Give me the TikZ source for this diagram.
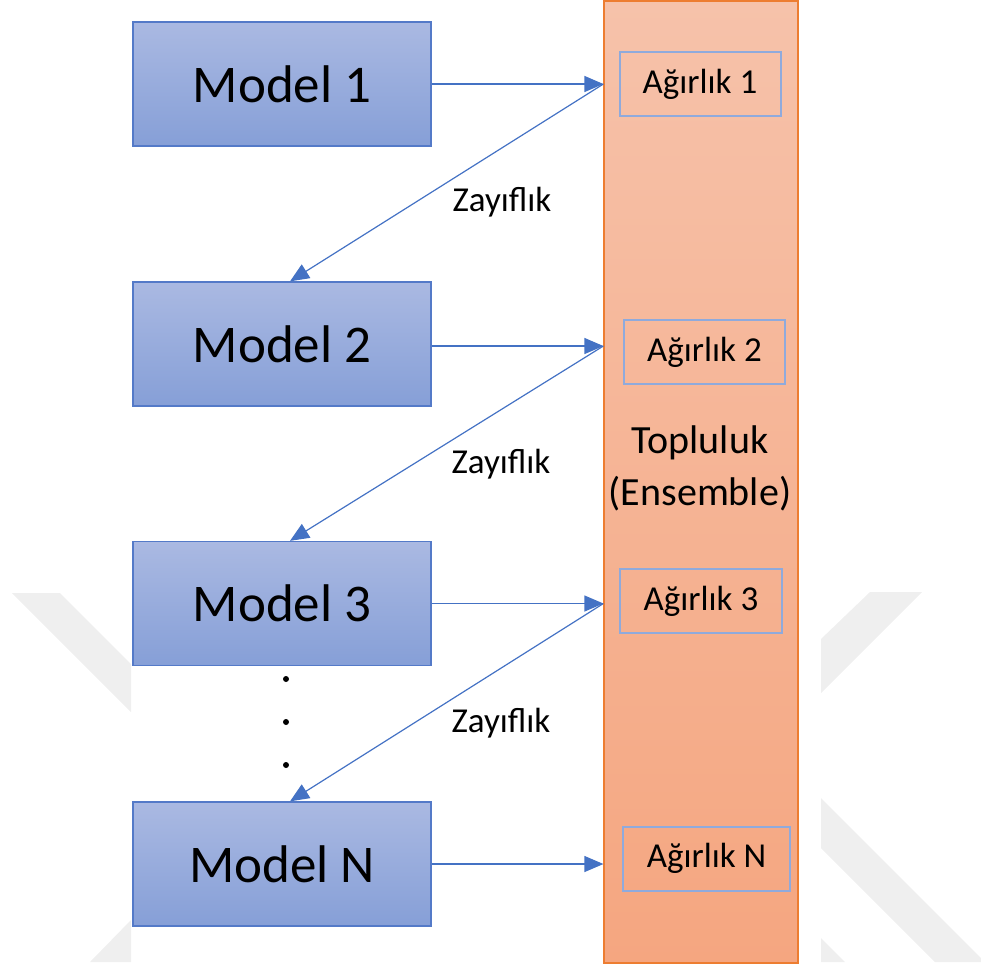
\documentclass[tikz,border=0pt]{standalone}
\usepackage{fontspec}
\setmainfont{Carlito}
\usetikzlibrary{arrows.meta}

\definecolor{modeltop}{RGB}{170,185,226}
\definecolor{modelbot}{RGB}{134,159,215}
\definecolor{modeledge}{RGB}{84,122,200}
\definecolor{enstop}{RGB}{246,194,170}
\definecolor{ensbot}{RGB}{245,166,128}
\definecolor{ensedge}{RGB}{237,125,49}
\definecolor{weightedge}{RGB}{143,170,220}
\definecolor{link}{RGB}{68,114,196}
\definecolor{mark}{RGB}{239,239,239}

\tikzset{
  modelbox/.style={rectangle, draw=modeledge, line width=1.3pt,
    top color=modeltop, bottom color=modelbot,
    minimum width=298pt, minimum height=124pt, inner sep=0pt,
    font=\fontsize{53}{60}\selectfont},
  ensbox/.style={rectangle, draw=ensedge, line width=1.2pt,
    top color=enstop, bottom color=ensbot,
    minimum width=194pt, minimum height=962pt, inner sep=0pt},
  weightbox/.style={rectangle, draw=weightedge, line width=2pt,
    minimum height=64pt, inner sep=0pt,
    font=\fontsize{35}{40}\selectfont},
  enslabel/.style={align=center, font=\fontsize{40}{52}\selectfont},
  weaklabel/.style={font=\fontsize{35}{40}\selectfont},
  link/.style={draw=link, line width=1.2pt,
    -{Triangle[length=19pt,width=16pt]}},
  dotmark/.style={circle, fill=black, inner sep=0pt, minimum size=6pt},
  markband/.style={fill=mark, draw=none}
}

\begin{document}
\begin{tikzpicture}[x=1pt, y=-1pt]
  \useasboundingbox (0,0) rectangle (981,967);

  % faint background marks at the page edges
  \fill[markband] (12,593) -- (60,593) -- (131,664) -- (131,712) -- cycle;
  \fill[markband] (90,962) -- (131,920) -- (131,962) -- cycle;
  \fill[markband] (870,592) -- (922,592) -- (821,693) -- (821,639) -- cycle;
  \fill[markband] (821,798) -- (981,958) -- (981,962) -- (935,962) -- (821,848) -- cycle;
  \fill[markband] (821,938) -- (845,962) -- (821,962) -- cycle;

  % ensemble column with its weights
  \node[ensbox] (ens) at (701,482) {};
  \node[weightbox, minimum width=161pt] (w1) at (700,84) {Ağırlık 1};
  \node[weightbox, minimum width=161pt] (w2) at (704.5,352) {Ağırlık 2};
  \node[weightbox, minimum width=162pt] (w3) at (701,601) {Ağırlık 3};
  \node[weightbox, minimum width=167pt] (wn) at (706.5,858.5) {Ağırlık N};
  \node[enslabel] (enstext) at (700,468) {Topluluk\\(Ensemble)};

  % models
  \node[modelbox] (m1) at (282,84) {Model 1};
  \node[modelbox] (m2) at (282,344) {Model 2};
  \node[modelbox] (m3) at (282,603.5) {Model 3};
  \node[modelbox] (mn) at (282,864) {Model N};

  % ellipsis between model 3 and model N
  \node[dotmark] (d1) at (286,679) {};
  \node[dotmark] (d2) at (286,722) {};
  \node[dotmark] (d3) at (286,765) {};

  % entry points on the ensemble column
  \coordinate (e1) at (ens.west |- m1.east);
  \coordinate (e2) at (ens.west |- 0,346);
  \coordinate (e3) at (ens.west |- m3.east);
  \coordinate (en) at (ens.west |- mn.east);

  % model outputs into the ensemble
  \draw[link] (m1.east) -- (e1);
  \draw[link] (m2.east |- e2) -- (e2);
  \draw[link] (m3.east) -- (e3);
  \draw[link] (mn.east) -- (en);

  % weaknesses passed on to the next model
  \draw[link] (e1) -- (m2.north -| 290,0);
  \draw[link] (e2) -- (m3.north -| 290,0);
  \draw[link] (e3) -- (mn.north -| 290,0);

  \node[weaklabel] (z1) at (502,202) {Zayıflık};
  \node[weaklabel] (z2) at (501,464) {Zayıflık};
  \node[weaklabel] (z3) at (501,723) {Zayıflık};
\end{tikzpicture}
\end{document}
